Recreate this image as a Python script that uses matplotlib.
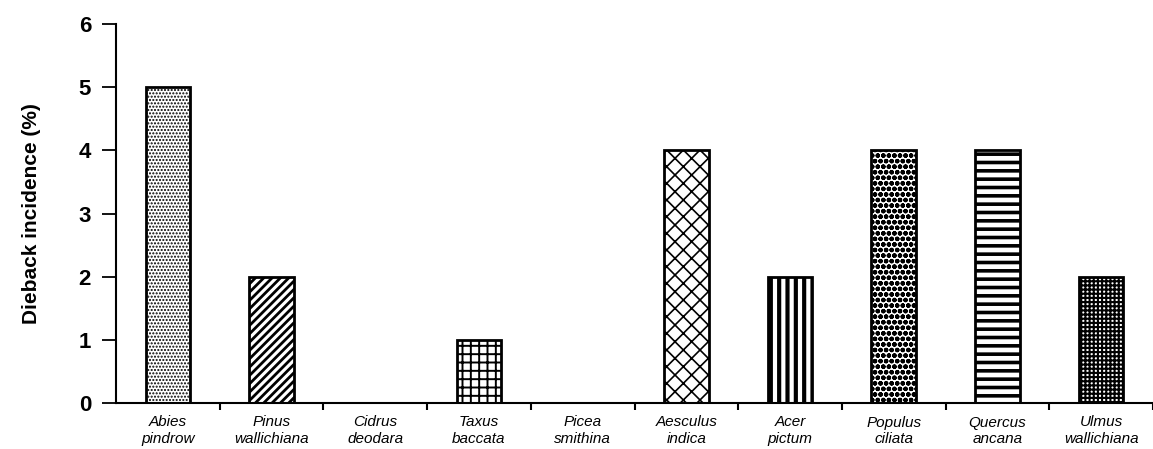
import matplotlib
matplotlib.use("Agg")
import matplotlib.pyplot as plt
import numpy as np

# Dieback incidence per tree species
genus = ["Abies", "Pinus", "Cidrus", "Taxus", "Picea",
         "Aesculus", "Acer", "Populus", "Quercus", "Ulmus"]
species = ["pindrow", "wallichiana", "deodara", "baccata", "smithina",
           "indica", "pictum", "ciliata", "ancana", "wallichiana"]
incidence = [5, 2, 0, 1, 0, 4, 2, 4, 4, 2]
y_ticks = [0, 1, 2, 3, 4, 5, 6]

# fill pattern and pattern line width for each species' bar
hatches = [".....", "////", "", "++", "", "xx", "||", "ooo", "--", "++++"]
hatch_lw = [1.0, 2.0, 1.0, 1.4, 1.0, 1.2, 3.0, 1.6, 2.6, 1.5]

plt.rcParams["font.family"] = ["Liberation Sans", "DejaVu Sans"]

fig = plt.figure(figsize=(11.53, 4.49), dpi=100)
W, H = 1153, 449
left_px, right_px = 116, 1153
top_px, bottom_px = 24, 403
ax = fig.add_axes([left_px / W, (H - bottom_px) / H,
                   (right_px - left_px) / W, (bottom_px - top_px) / H])

x = np.arange(len(genus))
unit = 104.7
ax.set_xlim(-0.5, -0.5 + (right_px - left_px) / unit)
ax.set_ylim(0, 6)

for xi, val, h, hlw in zip(x, incidence, hatches, hatch_lw):
    if val <= 0:
        continue
    with plt.rc_context({"hatch.linewidth": hlw}):
        bars = ax.bar(xi, val, width=0.43, facecolor="white", edgecolor="black",
                      hatch=h, linewidth=2.0, zorder=2)
    for b in bars:
        if hasattr(b, "set_hatch_linewidth"):
            b.set_hatch_linewidth(hlw)

for s in ("top", "right"):
    ax.spines[s].set_visible(False)
for s in ("left", "bottom"):
    ax.spines[s].set_linewidth(1.5)

ax.set_yticks(y_ticks)
ax.set_yticklabels([str(t) for t in y_ticks], fontsize=16, fontweight="bold")
ax.tick_params(axis="y", direction="out", length=10, width=1.3, pad=8)

# Category labels centred under bars, tick marks at category boundaries
ax.set_xticks(x)
ax.set_xticklabels([f"{g}\n{s}" for g, s in zip(genus, species)],
                   fontsize=11, fontstyle="italic", linespacing=1.2)
ax.tick_params(axis="x", which="major", length=0, pad=9)
ax.set_xticks(np.arange(0.5, len(genus), 1.0), minor=True)
ax.tick_params(axis="x", which="minor", direction="out", length=5, width=1.5)

ax.set_ylabel("Dieback incidence (%)", fontsize=15, fontweight="bold")
ax.yaxis.set_label_coords(-0.072, 0.5)

fig.savefig("out.png", dpi=100)
